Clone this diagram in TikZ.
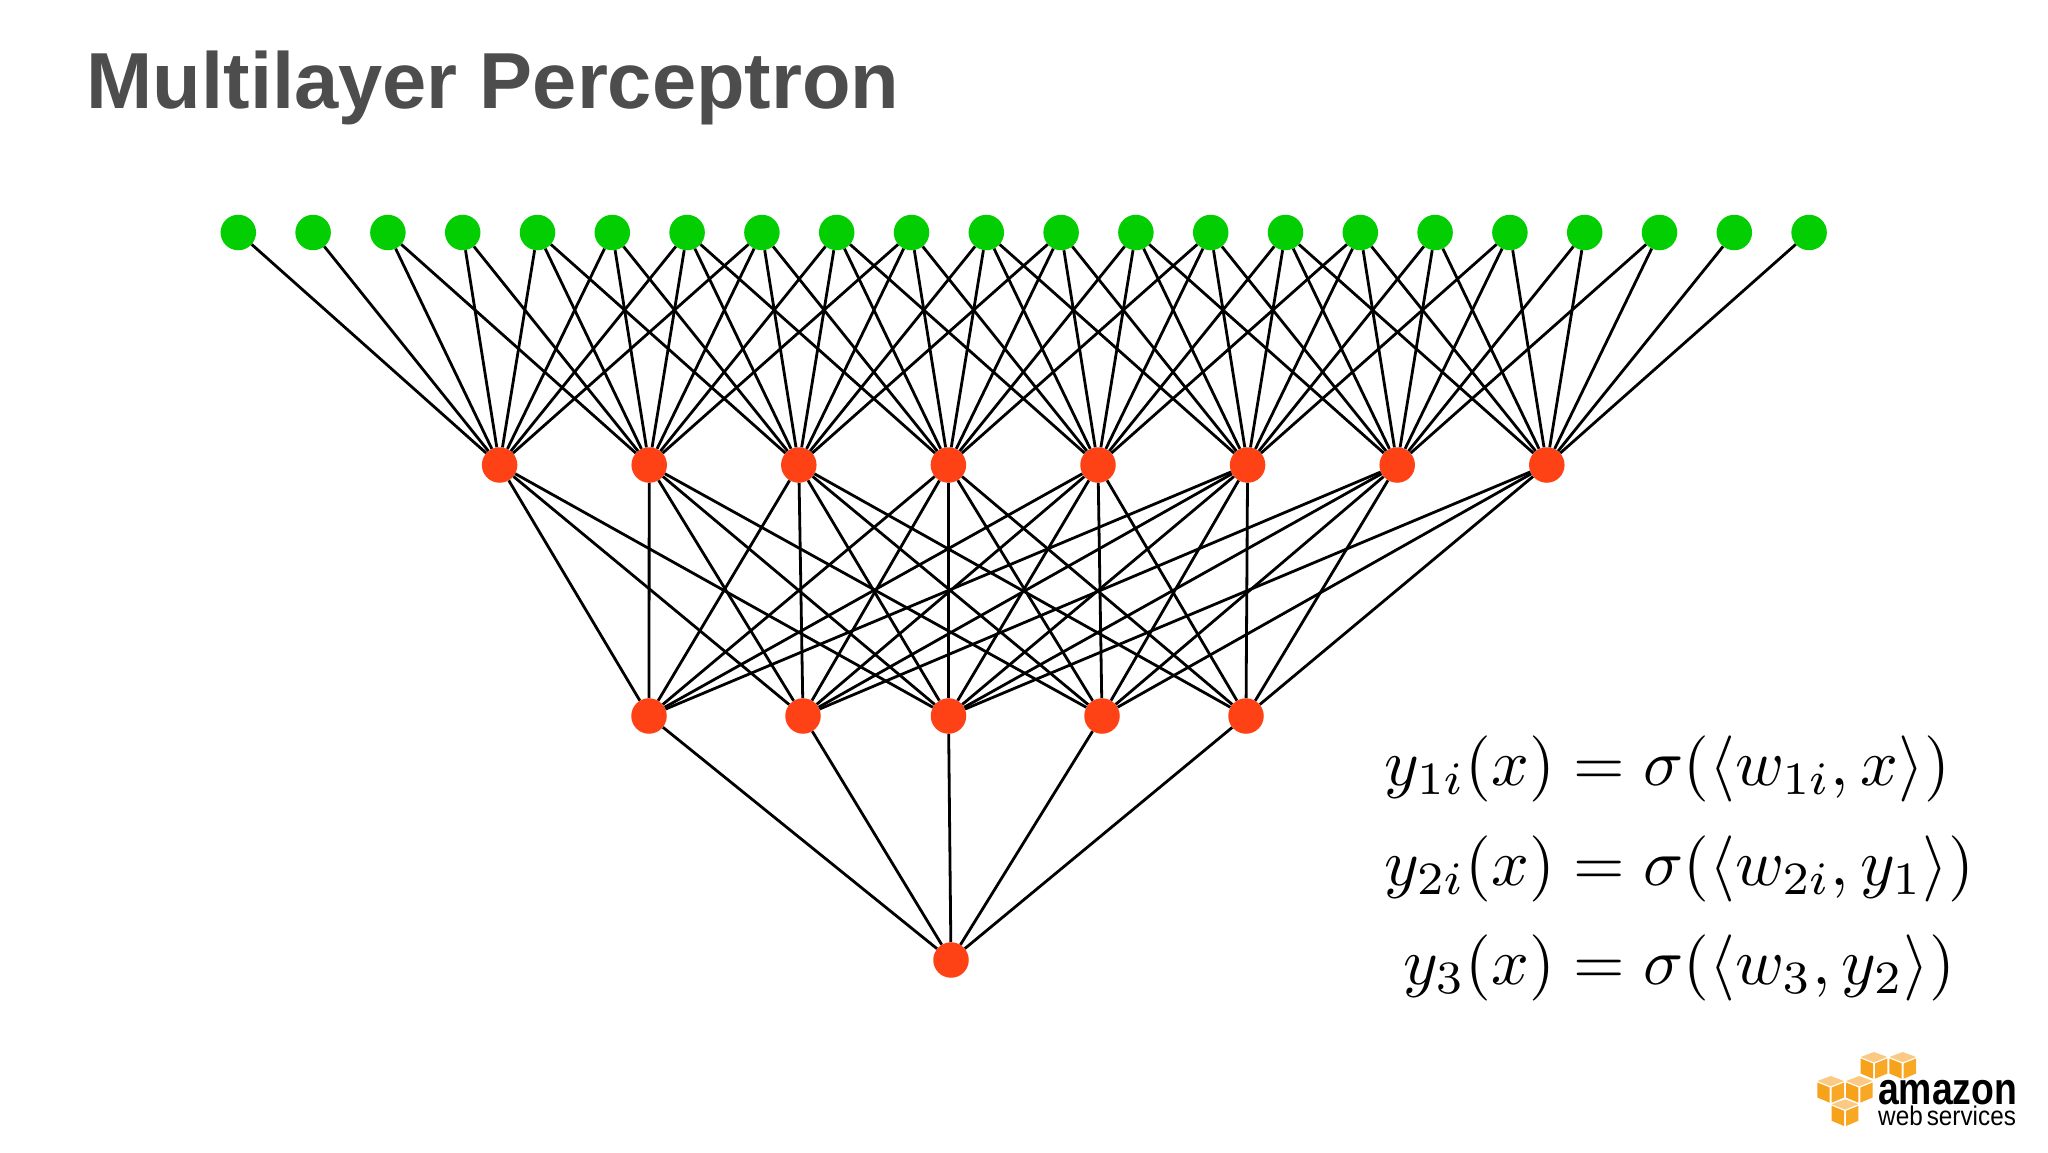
\documentclass[tikz,border=0pt]{standalone}
\usepackage{fontspec}
\usepackage{amsmath}
\usepackage{graphicx}
\setmainfont{Liberation Sans}
\definecolor{ingreen}{HTML}{02CE02}
\definecolor{hidred}{HTML}{FF4215}
\definecolor{titlegray}{HTML}{4D4D4D}
\definecolor{cubetop}{HTML}{FBC984}
\definecolor{cubeleft}{HTML}{F7A21B}
\definecolor{cuberight}{HTML}{F9A825}
\newcommand{\awscube}[2]{%
  \fill[cubetop] (#1,#2) -- ++(13.3,5) -- ++(-13.3,5.3) -- ++(-13.3,-5.3) -- cycle;
  \fill[cubeleft] (#1-13.3,#2+6.5) -- (#1-1,#2+11.5) -- (#1-1,#2+26.7) -- (#1-13.3,#2+21.5) -- cycle;
  \fill[cuberight] (#1+13.3,#2+6.5) -- (#1+1,#2+11.5) -- (#1+1,#2+26.7) -- (#1+13.3,#2+21.5) -- cycle;
}
\newcommand{\bigeq}[1]{\scalebox{6.62}{$#1$}}
\tikzset{
  unit/.style={circle,draw=none,minimum size=35.5pt,inner sep=0pt},
  inunit/.style={unit,fill=ingreen},
  hidunit/.style={unit,fill=hidred},
  link/.style={black,line width=2.8pt},
  eqn/.style={inner sep=0pt,text=black}
}
\begin{document}
\begin{tikzpicture}[x=1pt,y=-1pt]
\fill[white] (0,0) rectangle (2048,1152);
\useasboundingbox (0,0) rectangle (2048,1152);
% title
\node[anchor=base west,inner sep=0pt,text=titlegray,font=\fontsize{79.5}{96}\selectfont\bfseries] (title) at (86.5,108) {Multilayer Perceptron};
% units
\foreach \i in {1,...,22}{
  \pgfmathsetmacro\px{238.3+74.8*(\i-1)}
  \node[inunit] (in\i) at (\px,232.5) {};
}
\foreach \i in {1,...,8}{
  \pgfmathsetmacro\px{499.6+149.6*(\i-1)}
  \node[hidunit] (h\i) at (\px,465) {};
}
\foreach \i/\px in {1/649,2/803,3/948.5,4/1102,5/1246}{
  \node[hidunit] (o\i) at (\px,716) {};
}
\node[hidunit] (out) at (951,960) {};
% connectors
\foreach \h in {1,...,8}{
  \foreach \k in {0,...,7}{
    \pgfmathtruncatemacro\n{2*(\h-1)+1+\k}
    \draw[link] (h\h) -- (in\n);
  }
}
\foreach \h/\lo/\hi in {1/1/3,2/1/4,3/1/5,4/1/5,5/1/5,6/1/5,7/2/5,8/3/5}{
  \foreach \o in {\lo,...,\hi}{
    \draw[link] (h\h) -- (o\o);
  }
}
\foreach \o in {1,...,5}{
  \draw[link] (o\o) -- (out);
}
% equations
\node[eqn,anchor=base east] (l1) at (1555,785) {\bigeq{y_{1i}(x)}};
\node[eqn,anchor=base west] (r1) at (1555,785) {\bigeq{\;=\sigma(\langle w_{1i},x\rangle)}};
\node[eqn,anchor=base east] (l2) at (1555,885) {\bigeq{y_{2i}(x)}};
\node[eqn,anchor=base west] (r2) at (1555,885) {\bigeq{\;=\sigma(\langle w_{2i},y_1\rangle)}};
\node[eqn,anchor=base east] (l3) at (1555,984) {\bigeq{y_3(x)}};
\node[eqn,anchor=base west] (r3) at (1555,984) {\bigeq{\;=\sigma(\langle w_3,y_2\rangle)}};
% logo
\awscube{1874}{1052}
\awscube{1902.7}{1052}
\awscube{1830.7}{1076}
\awscube{1859.3}{1076}
\awscube{1845}{1099.3}
\node[anchor=base west,inner sep=0pt,text=black] (amz) at (1878,1104) {\scalebox{0.83}[1]{\fontsize{45}{50}\selectfont\bfseries amazon}};
\node[anchor=base west,inner sep=0pt,text=black] (aws) at (1878,1125.7) {\scalebox{0.9}[1]{\fontsize{27}{30}\selectfont web\,services}};
\end{tikzpicture}
\end{document}
